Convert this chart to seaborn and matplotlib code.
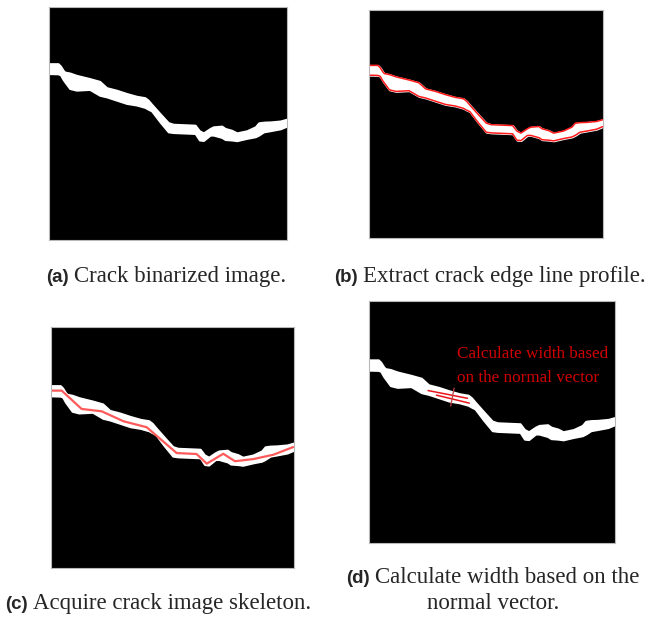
import numpy as np
import pandas as pd
import matplotlib
matplotlib.use("Agg")
import matplotlib.pyplot as plt
import seaborn as sns

# Crack profile in image percent coordinates (x across, y down from top)
crack_x = [0, 3.8, 4.8, 5.9, 6.6, 8.7, 11.5, 17.1, 21.3, 24.2, 28.4, 32.6, 36.8,
           40.3, 41.7, 43.1, 46.6, 50.1, 52.2, 61.4, 63.2, 64.9, 67.7, 69.1,
           72.6, 74.0, 76.8, 78.9, 83.1, 86.7, 88.1, 90.2, 93.0, 97.2, 100]
crack_top = [24.3, 24.3, 25.3, 27.1, 27.9, 28.3, 29.3, 30.7, 31.9, 34.6, 35.7,
             37.1, 38.3, 38.9, 40.0, 41.7, 45.7, 49.6, 50.3, 50.7, 53.1, 54.0,
             52.1, 51.4, 51.1, 52.1, 52.9, 54.0, 53.1, 51.4, 49.7, 49.4, 49.3,
             48.9, 48.1]
crack_bottom = [28.6, 28.7, 29.1, 31.1, 32.1, 35.0, 35.7, 35.4, 37.9, 38.6, 40.0,
                41.4, 42.1, 43.1, 43.9, 44.6, 49.3, 53.6, 53.9, 54.3, 57.1, 57.3,
                55.0, 55.0, 56.0, 56.9, 57.1, 57.4, 56.4, 55.7, 55.0, 53.6, 53.1,
                52.3, 51.1]

# Skeleton polyline
skel_x = [0, 4.4, 12.6, 20.9, 29.8, 39.4, 51.7, 59.9, 64.1, 70.9, 75.7, 83.3, 91.5, 99.7]
skel_y = [26.4, 26.4, 34.0, 35.0, 39.1, 41.6, 52.3, 52.7, 56.7, 52.6, 55.7, 54.8, 53.0, 49.8]

# Local edge segments and normal used for the width measurement
edge1_x, edge1_y = [24.0, 40.0], [37.0, 40.2]
edge2_x, edge2_y = [27.4, 40.8], [38.9, 42.2]
normal_x, normal_y = [34.6, 33.2], [36.0, 43.4]

captions = {
    "a": ["Crack binarized image."],
    "b": ["Extract crack edge line profile."],
    "c": ["Acquire crack image skeleton."],
    "d": ["Calculate width based on the", "normal vector."],
}
annotation = ["Calculate width based", "on the normal vector"]

sns.set_style("white")
plt.rcParams["font.family"] = ["Liberation Serif", "DejaVu Serif"]

W, H = 665, 619
fig = plt.figure(figsize=(W / 100, H / 100), dpi=100)


def panel(x0, y0, x1, y1):
    ax = fig.add_axes([x0 / W, 1 - y1 / H, (x1 - x0) / W, (y1 - y0) / H])
    ax.set_facecolor("black")
    ax.set_xlim(0, 100)
    ax.set_ylim(100, 0)
    ax.set_xticks([])
    ax.set_yticks([])
    for s in ax.spines.values():
        s.set_color("#b8b8b8")
        s.set_linewidth(0.8)
    return ax


def crack(ax):
    ax.fill_between(crack_x, crack_top, crack_bottom, color="white", lw=1.4,
                    edgecolor="white")


prof = pd.DataFrame({"x": crack_x, "top": crack_top, "bottom": crack_bottom})
skel = pd.DataFrame({"x": skel_x, "y": skel_y})

# (a) binarized crack
ax_a = panel(49, 7, 287, 240)
crack(ax_a)

# (b) edge profile
ax_b = panel(369, 10, 603, 238)
crack(ax_b)
sns.lineplot(data=prof, x="x", y="top", ax=ax_b, color="#ff1a1a", lw=1.1,
             sort=False, estimator=None)
sns.lineplot(data=prof, x="x", y="bottom", ax=ax_b, color="#ff1a1a", lw=1.1,
             sort=False, estimator=None)

# (c) skeleton
ax_c = panel(51, 327, 294, 568)
crack(ax_c)
sns.lineplot(data=skel, x="x", y="y", ax=ax_c, color="#ff5a5a", lw=1.6,
             sort=False, estimator=None)

# (d) width along the normal vector
ax_d = panel(369, 301, 615, 543)
crack(ax_d)
ax_d.plot(edge1_x, edge1_y, color="#e8141c", lw=1.1)
ax_d.plot(edge2_x, edge2_y, color="#e8141c", lw=1.1)
ax_d.plot(normal_x, normal_y, color="#c04040", lw=0.9)
for i, line in enumerate(annotation):
    ax_d.text(35.8, 23.6 + 10.0 * i, line, color="#d10000", fontsize=12.3,
              family=["Liberation Serif"], va="baseline", ha="left")

for ax in (ax_a, ax_b, ax_c, ax_d):
    ax.set_xlabel("")
    ax.set_ylabel("")

renderer = fig.canvas.get_renderer()


def caption(xc, y, label, text, gap=5):
    t1 = fig.text(0, 1 - y / H, f"({label})", fontsize=13.5, fontweight="bold",
                  family=["Liberation Sans"], va="baseline", ha="left")
    t2 = fig.text(0, 1 - y / H, text, fontsize=16.5, va="baseline", ha="left")
    w1 = t1.get_window_extent(renderer).width
    w2 = t2.get_window_extent(renderer).width
    x0 = xc - (w1 + gap + w2) / 2
    t1.set_x(x0 / W)
    t2.set_x((x0 + w1 + gap) / W)


caption(166, 282, "a", captions["a"][0])
caption(490, 282, "b", captions["b"][0])
caption(158, 609, "c", captions["c"][0])
caption(493, 583, "d", captions["d"][0])
fig.text(493 / W, 1 - 609 / H, captions["d"][1], fontsize=16.5, ha="center",
         va="baseline")

fig.savefig("out.png", dpi=100, facecolor="white")
